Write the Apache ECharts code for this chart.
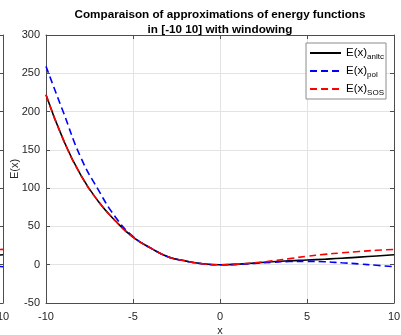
<!DOCTYPE html>
<html><head><meta charset="utf-8">
<script src="https://cdn.jsdelivr.net/npm/echarts@6/dist/echarts.min.js"></script>
<style>html,body{margin:0;padding:0;background:#fff}#c{width:401px;height:335px}</style>
</head><body><div id="c"></div>
<script>
var xs = [-10,-9,-8,-7,-6,-5,-4,-3,-2,-1,0,1,2,3,4,5,6,7,8,9,10];
var eAnltc = [222,163,117,83,57,36,22,10.5,5,1.3,0,0.6,2.2,3.8,5.1,6.1,7.2,8.4,9.9,11.4,13];
var ePol   = [259,199,140,98,62,37,22,10.5,4.8,1.2,0,0.5,1.8,3.2,4.2,4.4,3.9,2.5,1,-0.8,-2.6];
var eSos   = [222,163,117,83,57,36,22,10.5,5,1.3,0,0.7,2.6,5,8,11,13.5,15.5,17.3,18.8,20];
var xTicks = [-10,-5,0,5,10];
var yTicks = [-50,0,50,100,150,200,250,300];
var names = ['anltc','pol','SOS'];

function pairs(v){ return xs.map(function(x,i){ return [x, v[i]]; }); }
var axisCol = '#4d4d4d', txtCol = '#262626', gridCol = '#e3e3e3';
var font = 'Liberation Sans, Arial, sans-serif';

function xAx(gi, pos, showLabel){
  return {type:'value', gridIndex:gi, position:pos, min:xTicks[0], max:xTicks[xTicks.length-1], interval:5,
    axisLine:{show:true, onZero:false, lineStyle:{color:axisCol}},
    axisTick:{show:true, inside:true, length:4, lineStyle:{color:axisCol}},
    axisLabel:{show:showLabel, color:txtCol, fontSize:11, fontFamily:font, margin:8},
    splitLine:{show:pos==='bottom', lineStyle:{color:gridCol}},
    name: (pos==='bottom' && gi===0) ? 'x' : '', nameLocation:'middle', nameGap:22, nameMoveOverlap:false,
    nameTextStyle:{color:txtCol, fontSize:11, fontFamily:font}};
}
function yAx(gi, pos, showLabel){
  return {type:'value', gridIndex:gi, position:pos, min:yTicks[0], max:yTicks[yTicks.length-1], interval:50,
    axisLine:{show:true, onZero:false, lineStyle:{color:axisCol}},
    axisTick:{show:true, inside:true, length:4, lineStyle:{color:axisCol}},
    axisLabel:{show:showLabel, color:txtCol, fontSize:11, fontFamily:font, margin:6},
    splitLine:{show:pos==='left', lineStyle:{color:gridCol}},
    name: (pos==='left' && gi===0) ? 'E(x)' : '', nameLocation:'middle', nameGap:26, nameMoveOverlap:false,
    nameTextStyle:{color:txtCol, fontSize:11, fontFamily:font}};
}
var colors = ['#000000','#0000ff','#ff0000'];
var dataSets = [eAnltc, ePol, eSos];
var series = [];
[0,1].forEach(function(g){
  dataSets.forEach(function(d,i){
    series.push({type:'line', name: g===0 ? names[i] : names[i]+'_n', xAxisIndex:g*2, yAxisIndex:g*2,
      data:pairs(d), smooth:true, symbol:'none', silent:true, z:2+i,
      lineStyle:{color:colors[i], width:1.6, type: i===0 ? 'solid' : [7,4]},
      itemStyle:{color:colors[i]}});
  });
});

var chart = echarts.init(document.getElementById('c'), null, {renderer:'canvas'});
chart.setOption({
  animation:false,
  backgroundColor:'#fff',
  title:{text:'Comparaison of approximations of energy functions\nin [-10 10] with windowing',
    left:215, top:2, textAlign:'center',
    textStyle:{fontSize:11.7, fontWeight:'bold', color:'#000', fontFamily:font, lineHeight:15}},
  grid:[{left:46, right:7, top:35, bottom:32, outerBoundsMode:'none', containLabel:false},
        {left:-340, width:343, top:35, bottom:32, outerBoundsMode:'none', containLabel:false}],
  xAxis:[xAx(0,'bottom',true), xAx(0,'top',false), xAx(1,'bottom',true), xAx(1,'top',false)],
  yAxis:[yAx(0,'left',true), yAx(0,'right',false), yAx(1,'left',false), yAx(1,'right',false)],
  legend:{data:names, right:15, top:43, orient:'vertical', itemWidth:31, itemHeight:10, itemGap:4,
    backgroundColor:'#fff', borderColor:'#8c8c8c', borderWidth:1, padding:[4,2,2,3],
    itemStyle:{opacity:0},
    formatter:function(n){ return '{a|E(x)}{s|'+n+'}'; },
    textStyle:{rich:{a:{fontSize:11.5, color:'#000', fontFamily:font},
                     s:{fontSize:8, color:'#000', fontFamily:font, padding:[8,0,0,0]}}}},
  series:series
});
</script></body></html>
